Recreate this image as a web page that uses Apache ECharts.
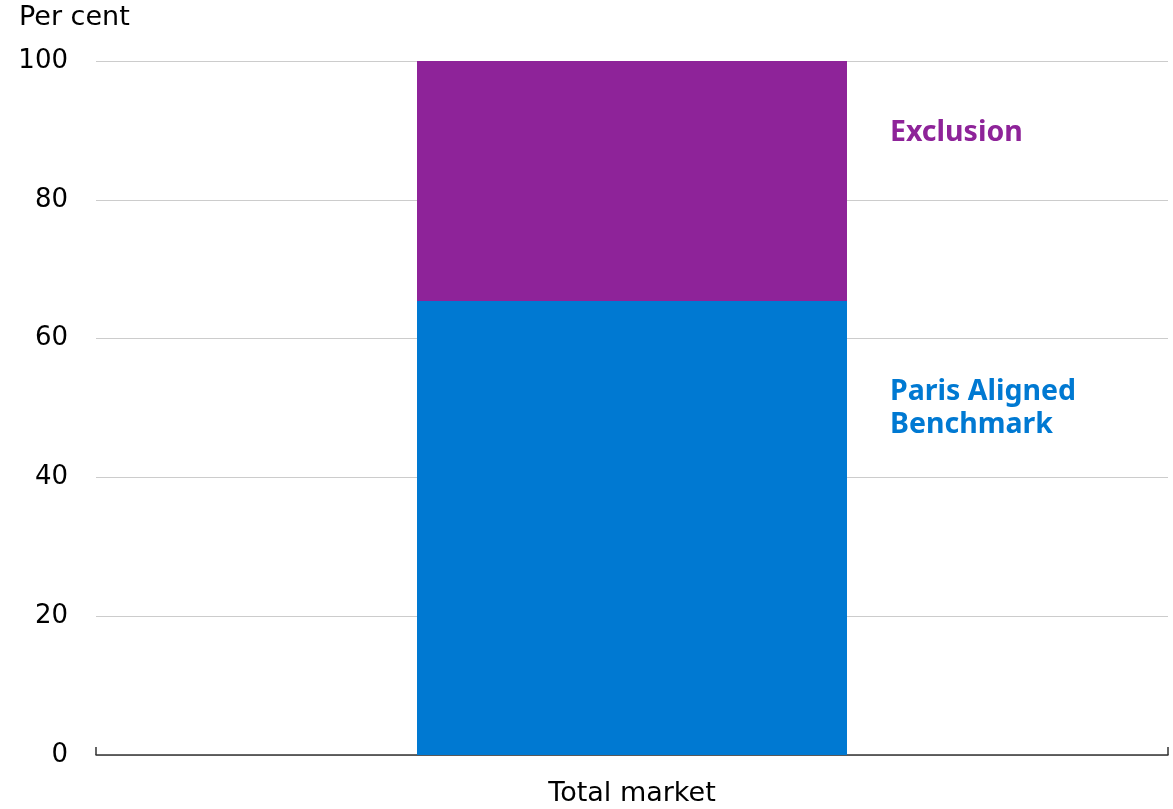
<!DOCTYPE html>
<html lang="en">
<head>
<meta charset="utf-8">
<title>Total market</title>
<script src="https://cdn.jsdelivr.net/npm/echarts@6/dist/echarts.min.js"></script>
<style>
  html, body { margin: 0; padding: 0; background: #fff; }
  #chart { width: 1173px; height: 809px; }
</style>
</head>
<body>
<div id="chart"></div>
<script>
const categories = ['Total market'];
const parisAligned = [65.4];
const exclusion = [34.6];
const yTicks = [0, 20, 40, 60, 80, 100];

const FONT = '"DejaVu Sans", sans-serif';
const BOLD_FONT = '"Noto Sans", "Open Sans", sans-serif';

var chart = echarts.init(document.getElementById('chart'));
chart.setOption({
  animation: false,
  title: {
    text: 'Per cent',
    left: 14,
    top: -1,
    textStyle: { fontFamily: FONT, fontSize: 27, fontWeight: 'normal', color: '#000' }
  },
  grid: { left: 96, right: 5, top: 61, bottom: 54 },
  xAxis: {
    type: 'category',
    data: categories,
    axisLine: { lineStyle: { color: '#333', width: 1.5 } },
    axisTick: { show: true, inside: true, length: 8, lineStyle: { color: '#333', width: 1.5 } },
    axisLabel: { fontFamily: FONT, fontSize: 27, color: '#000', margin: 25 }
  },
  yAxis: {
    type: 'value',
    min: yTicks[0],
    max: yTicks[yTicks.length - 1],
    interval: 20,
    axisLine: { show: false },
    axisTick: { show: false },
    axisLabel: { fontFamily: FONT, fontSize: 26, color: '#000', margin: 28 },
    splitLine: { lineStyle: { color: '#cccccc', width: 1 } }
  },
  series: [
    {
      name: 'Paris Aligned Benchmark',
      type: 'bar',
      stack: 'total',
      data: parisAligned,
      barWidth: 430,
      itemStyle: { color: '#0079D2' },
      label: {
        show: true,
        position: 'right',
        offset: [38, -120],
        formatter: 'Paris Aligned\nBenchmark',
        fontFamily: BOLD_FONT,
        fontSize: 28.5,
        fontWeight: 'bold',
        lineHeight: 33,
        color: '#0079D2',
        align: 'left'
      }
    },
    {
      name: 'Exclusion',
      type: 'bar',
      stack: 'total',
      data: exclusion,
      barWidth: 430,
      itemStyle: { color: '#8E2399' },
      label: {
        show: true,
        position: 'right',
        offset: [38, -48],
        formatter: 'Exclusion',
        fontFamily: BOLD_FONT,
        fontSize: 28.5,
        fontWeight: 'bold',
        color: '#8E2399',
        align: 'left'
      }
    }
  ]
});
</script>
</body>
</html>
